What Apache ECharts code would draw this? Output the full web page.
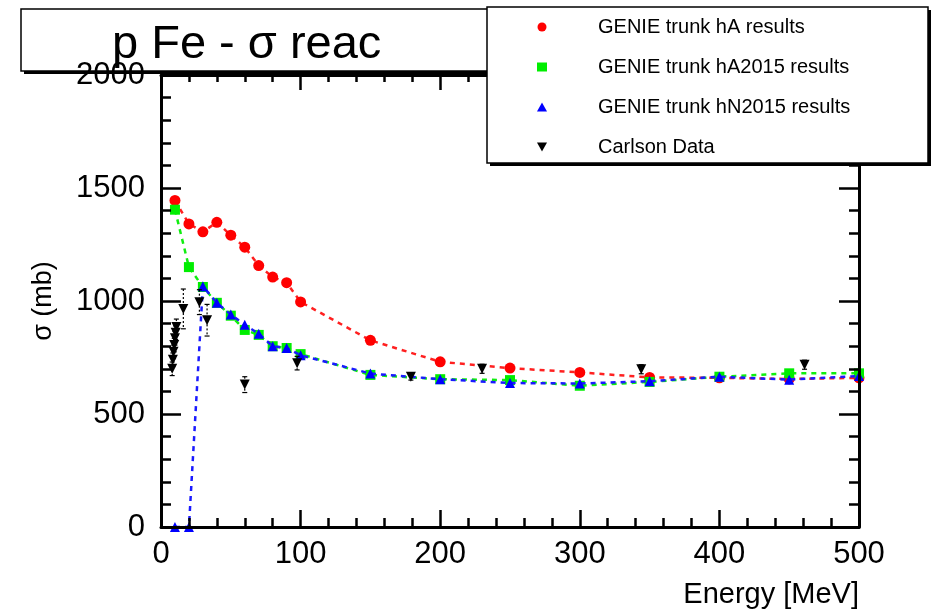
<!DOCTYPE html>
<html>
<head>
<meta charset="utf-8">
<script src="https://cdn.jsdelivr.net/npm/echarts@6/dist/echarts.min.js"></script>
<style>
  html, body { margin: 0; padding: 0; background: #fff; }
  #chart { width: 936px; height: 609px; }
</style>
</head>
<body>
<div id="chart"></div>
<script>
// Kinetic energies (MeV) of the GENIE runs
const energyGenie = [10, 20, 30, 40, 50, 60, 70, 80, 90, 100, 150, 200, 250, 300, 350, 400, 450, 500];
// Reaction cross sections (mb) per model
const hA = [1445, 1341, 1306, 1348, 1291, 1238, 1157, 1106, 1081, 996, 826, 731, 703, 684, 662, 660, 655, 660];
const hA2015 = [1404, 1150, 1062, 992, 935, 872, 850, 800, 792, 765, 673, 654, 650, 625, 642, 665, 680, 680];
const hN2015 = [0, 0, 1065, 992, 940, 895, 855, 800, 792, 760, 679, 654, 637, 635, 645, 665, 652, 668];

// Carlson measurements: energy (MeV), cross section (mb), uncertainty (mb)
const carlsonE = [8, 8.5, 9, 9.5, 10, 10.5, 11, 16, 27.5, 33, 60, 97.5, 179, 230, 344, 461];
const carlsonXS = [700, 740, 775, 805, 835, 860, 885, 965, 995, 915, 630, 725, 665, 700, 698, 718];
const carlsonErr = [30, 30, 30, 30, 30, 30, 35, 88, 55, 70, 35, 30, 15, 20, 20, 20];

const seriesNames = ['GENIE trunk hA results', 'GENIE trunk hA2015 results', 'GENIE trunk hN2015 results', 'Carlson Data'];

const FONT = 'Liberation Sans, Arial, Helvetica, sans-serif';
const pairs = (xs, ys) => xs.map((x, i) => [x, ys[i]]);
const plain = v => String(v);

const chart = echarts.init(document.getElementById('chart'), null, { renderer: 'canvas' });

const frameLine = { show: true, onZero: false, lineStyle: { color: '#000', width: 3 } };
const noLabel = { show: false };
const tickStyle = { color: '#000', width: 2.5 };

const option = {
  backgroundColor: '#fff',
  animation: false,
  title: {
    text: 'p Fe - σ reac',
    left: 112,
    top: 22,
    padding: 0,
    z: 20,
    textStyle: { fontFamily: FONT, fontSize: 47, fontWeight: 'normal', color: '#000', lineHeight: 47 }
  },
  legend: {
    orient: 'vertical',
    left: 537,
    top: 17,
    padding: 0,
    itemWidth: 10,
    itemHeight: 9,
    itemGap: 20,
    z: 110,
    selectedMode: false,
    textStyle: { fontFamily: FONT, fontSize: 20, color: '#000', lineHeight: 20, padding: [0, 0, 0, 46] },
    data: [
      { name: seriesNames[0], icon: 'circle' },
      { name: seriesNames[1], icon: 'rect' },
      { name: seriesNames[2], icon: 'triangle' },
      { name: seriesNames[3], icon: 'path://M0,0L10,0L5,9Z' }
    ]
  },
  graphic: [
    // title box with its shadow
    { type: 'rect', z: 1, shape: { x: 24, y: 12, width: 470, height: 62 }, style: { fill: '#000' } },
    { type: 'rect', z: 1, shape: { x: 21, y: 9, width: 470, height: 62 }, style: { fill: '#fff', stroke: '#000', lineWidth: 1.5 } },
    // legend box with its shadow
    { type: 'rect', z: 100, shape: { x: 490, y: 10, width: 441, height: 156 }, style: { fill: '#000' } },
    { type: 'rect', z: 100, shape: { x: 487, y: 7, width: 441, height: 156 }, style: { fill: '#fff', stroke: '#000', lineWidth: 1.5 } }
  ],
  grid: { left: 161, right: 77, top: 75, bottom: 79, containLabel: false },
  xAxis: [
    {
      type: 'value', position: 'bottom', min: 0, max: 500, interval: 100, z: 5,
      name: 'Energy [MeV]', nameLocation: 'end', nameGap: 0,
      nameTextStyle: { fontFamily: FONT, fontSize: 29, color: '#000', align: 'right', verticalAlign: 'top', padding: [53, 0, 0, 0] },
      axisLine: frameLine,
      axisTick: { show: true, inside: true, length: 17, lineStyle: tickStyle },
      minorTick: { show: true, splitNumber: 5, length: 9, lineStyle: tickStyle },
      axisLabel: { show: true, margin: 12, fontFamily: FONT, fontSize: 31, color: '#000', formatter: plain },
      splitLine: { show: false }
    },
    {
      type: 'value', position: 'top', min: 0, max: 500, interval: 100, z: 5,
      axisLine: frameLine,
      axisTick: { show: true, inside: true, length: 15, lineStyle: tickStyle },
      minorTick: { show: true, splitNumber: 5, length: 7, lineStyle: tickStyle },
      axisLabel: noLabel,
      splitLine: { show: false }
    }
  ],
  yAxis: [
    {
      type: 'value', position: 'left', min: 0, max: 2000, interval: 500, z: 5,
      name: 'σ (mb)', nameLocation: 'middle', nameGap: 104, nameRotate: 90,
      nameTextStyle: { fontFamily: FONT, fontSize: 27, color: '#000' },
      axisLine: frameLine,
      axisTick: { show: true, inside: true, length: 20, lineStyle: tickStyle },
      minorTick: { show: true, splitNumber: 5, length: 10, lineStyle: tickStyle },
      axisLabel: { show: true, margin: 16, fontFamily: FONT, fontSize: 31, color: '#000', formatter: plain },
      splitLine: { show: false }
    },
    {
      type: 'value', position: 'right', min: 0, max: 2000, interval: 500, z: 5,
      axisLine: frameLine,
      axisTick: { show: true, inside: true, length: 20, lineStyle: tickStyle },
      minorTick: { show: true, splitNumber: 5, length: 10, lineStyle: tickStyle },
      axisLabel: noLabel,
      splitLine: { show: false }
    }
  ],
  series: [
    {
      name: seriesNames[0], type: 'line', data: pairs(energyGenie, hA),
      symbol: 'circle', symbolSize: 11, color: '#ff0000',
      lineStyle: { color: '#ff2020', width: 2.5, type: [5, 5] },
      itemStyle: { color: '#ff0000', opacity: 1 }, z: 2
    },
    {
      name: seriesNames[1], type: 'line', data: pairs(energyGenie, hA2015),
      symbol: 'rect', symbolSize: 10, color: '#00ee00',
      lineStyle: { color: '#10ee10', width: 2.5, type: [5, 5] },
      itemStyle: { color: '#00ee00', opacity: 1 }, z: 3
    },
    {
      name: seriesNames[2], type: 'line', data: pairs(energyGenie, hN2015),
      symbol: 'triangle', symbolSize: 10, color: '#0000ff',
      lineStyle: { color: '#1a1aff', width: 2.5, type: [5, 5] },
      itemStyle: { color: '#0000ff', opacity: 1 }, z: 4
    },
    {
      name: 'Carlson error bars', type: 'custom', z: 5,
      data: carlsonE.map((e, i) => [e, carlsonXS[i], carlsonErr[i]]),
      encode: { x: 0, y: 1 },
      renderItem: function (params, api) {
        const e = api.value(0), v = api.value(1), err = api.value(2);
        const top = api.coord([e, v + err]);
        const bot = api.coord([e, v - err]);
        const st = { stroke: '#000', lineWidth: 1.2 };
        return {
          type: 'group',
          children: [
            { type: 'line', shape: { x1: top[0], y1: top[1], x2: bot[0], y2: bot[1] }, style: { stroke: '#000', lineWidth: 1.2, lineDash: [2, 2] } },
            { type: 'line', shape: { x1: top[0] - 2.5, y1: top[1], x2: top[0] + 2.5, y2: top[1] }, style: st },
            { type: 'line', shape: { x1: bot[0] - 2.5, y1: bot[1], x2: bot[0] + 2.5, y2: bot[1] }, style: st }
          ]
        };
      }
    },
    {
      name: seriesNames[3], type: 'scatter', data: pairs(carlsonE, carlsonXS),
      symbol: 'triangle', symbolRotate: 180, symbolSize: 10, color: '#000',
      itemStyle: { color: '#000', opacity: 1 }, z: 6
    }
  ]
};

chart.setOption(option);
</script>
</body>
</html>
